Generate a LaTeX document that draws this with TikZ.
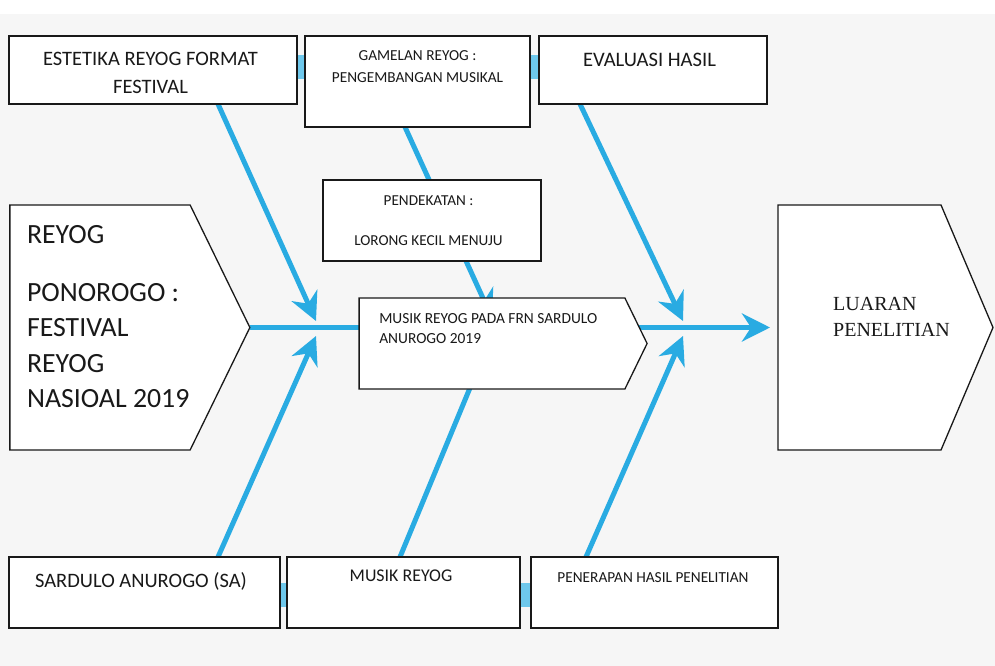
\documentclass[tikz,border=0pt]{standalone}
\usepackage{fontspec}
\setmainfont{Carlito}
\newfontfamily\luaranfont{Liberation Serif}
\usepackage{tikz}
\usetikzlibrary{arrows.meta}
\usetikzlibrary{shapes.symbols}
\usetikzlibrary{backgrounds}
\usetikzlibrary{positioning}
\definecolor{fishblue}{RGB}{41,171,226}
\definecolor{barblue}{RGB}{110,200,236}
\definecolor{paper}{RGB}{246,246,246}
\definecolor{ink}{RGB}{25,25,25}
\tikzset{>={Stealth[length=28pt,width=28pt,inset=9pt]},
  plainbox/.style={draw=ink, fill=white, line width=1.3pt, inner sep=0pt, outer sep=0pt, text=ink},
  arrowbox/.style={plainbox, signal, signal to=east, signal from=nowhere},
  boxtext/.style={inner sep=0pt, text=ink, align=center, anchor=north},
  lefttext/.style={inner sep=0pt, text=ink, align=left, anchor=north west},
  bone/.style={->, draw=fishblue, line width=5pt},
  hiddenbar/.style={draw=barblue, line width=24pt, line cap=round}}

\begin{document}
\begin{tikzpicture}[x=1pt, y=-1pt]
\useasboundingbox (0,0) rectangle (995,666);
% top row
\node[plainbox, minimum width=288, minimum height=68] (estetika) at (153,70) {};
\node[boxtext, font=\fontsize{20.5}{28}\selectfont, below=16pt of estetika.north, xshift=-2.5pt] (estetika-txt) {ESTETIKA REYOG FORMAT\\FESTIVAL};
\node[plainbox, minimum width=225, minimum height=91] (gamelan) at (417.5,81.5) {};
\node[boxtext, font=\fontsize{15.3}{22}\selectfont, below=14pt of gamelan.north] (gamelan-txt) {GAMELAN REYOG :\\PENGEMBANGAN MUSIKAL};
\node[plainbox, minimum width=228, minimum height=68] (evaluasi) at (653,70) {};
\node[boxtext, font=\fontsize{20.6}{24}\selectfont, below=17pt of evaluasi.north, xshift=-3.5pt] (evaluasi-txt) {EVALUASI HASIL};
% middle
\node[plainbox, minimum width=218, minimum height=81] (pendekatan) at (432,220.5) {};
\node[boxtext, font=\fontsize{15.2}{20}\selectfont, below=16pt of pendekatan.north, xshift=-3.5pt] (pendekatan-txt) {PENDEKATAN :\\[20pt]LORONG KECIL MENUJU};
\node[arrowbox, signal pointer angle=128, minimum width=288, minimum height=91] (musik) at (492,343.5) {};
\node[lefttext, font=\fontsize{15.4}{20}\selectfont, below right=15pt and 20pt of musik.north west] (musik-txt) {MUSIK REYOG PADA FRN SARDULO\\ANUROGO 2019};
\node[arrowbox, signal pointer angle=128, minimum width=240, minimum height=245] (reyog) at (100,327.5) {};
\node[lefttext, font=\fontsize{27.8}{35.5}\selectfont, below right=20pt and 17pt of reyog.north west] (reyog-txt) {REYOG\\[22.5pt]PONOROGO :\\FESTIVAL\\REYOG\\NASIOAL 2019};
\node[arrowbox, signal pointer angle=134, minimum width=215, minimum height=245] (luaran) at (859.5,327.5) {};
\node[lefttext, font=\luaranfont\fontsize{20}{26}\selectfont, below right=92pt and 55pt of luaran.north west] (luaran-txt) {LUARAN\\PENELITIAN};
% bottom row
\node[plainbox, minimum width=271, minimum height=71] (sardulo) at (144.5,592.5) {};
\node[boxtext, font=\fontsize{20.5}{24}\selectfont, below=15pt of sardulo.north, xshift=-3.5pt] (sardulo-txt) {SARDULO ANUROGO (SA)};
\node[plainbox, minimum width=233, minimum height=71] (musikreyog) at (403.5,592.5) {};
\node[boxtext, font=\fontsize{17.9}{22}\selectfont, below=13pt of musikreyog.north, xshift=-2.5pt] (musikreyog-txt) {MUSIK REYOG};
\node[plainbox, minimum width=247, minimum height=71] (penerapan) at (654.5,592.5) {};
\node[boxtext, font=\fontsize{15.3}{20}\selectfont, below=15pt of penerapan.north, xshift=-1.5pt] (penerapan-txt) {PENERAPAN HASIL PENELITIAN};
% junctions of the bones
\coordinate (jl-up) at (316,321);
\coordinate (jl-down) at (316,336);
\coordinate (jm-up) at (492,318);
\coordinate (jm-down) at (484,354);
\coordinate (jr-up) at (683,321);
\coordinate (jr-down) at (683,336);
\begin{scope}[on background layer]
\fill[paper] (0,14) rectangle (995,666);
\draw[hiddenbar] ([yshift=3pt]estetika.east) -- ([yshift=3pt]evaluasi.west);
\draw[hiddenbar] ([yshift=-2.5pt]sardulo.east) -- ([yshift=-2.5pt]penerapan.west);
\draw[bone] (reyog.east) -- ([xshift=-8pt]luaran.west);
\draw[bone] ([xshift=65pt]estetika.south) -- (jl-up);
\draw[bone] ([xshift=73.5pt]sardulo.north) -- (jl-down);
\draw[bone] ([xshift=-12.5pt]gamelan.south) -- (jm-up);
\draw[bone] ([xshift=-3.5pt]musikreyog.north) -- (jm-down);
\draw[bone] ([xshift=-73pt]evaluasi.south) -- (jr-up);
\draw[bone] ([xshift=-68.5pt]penerapan.north) -- (jr-down);
\end{scope}
\end{tikzpicture}
\end{document}
